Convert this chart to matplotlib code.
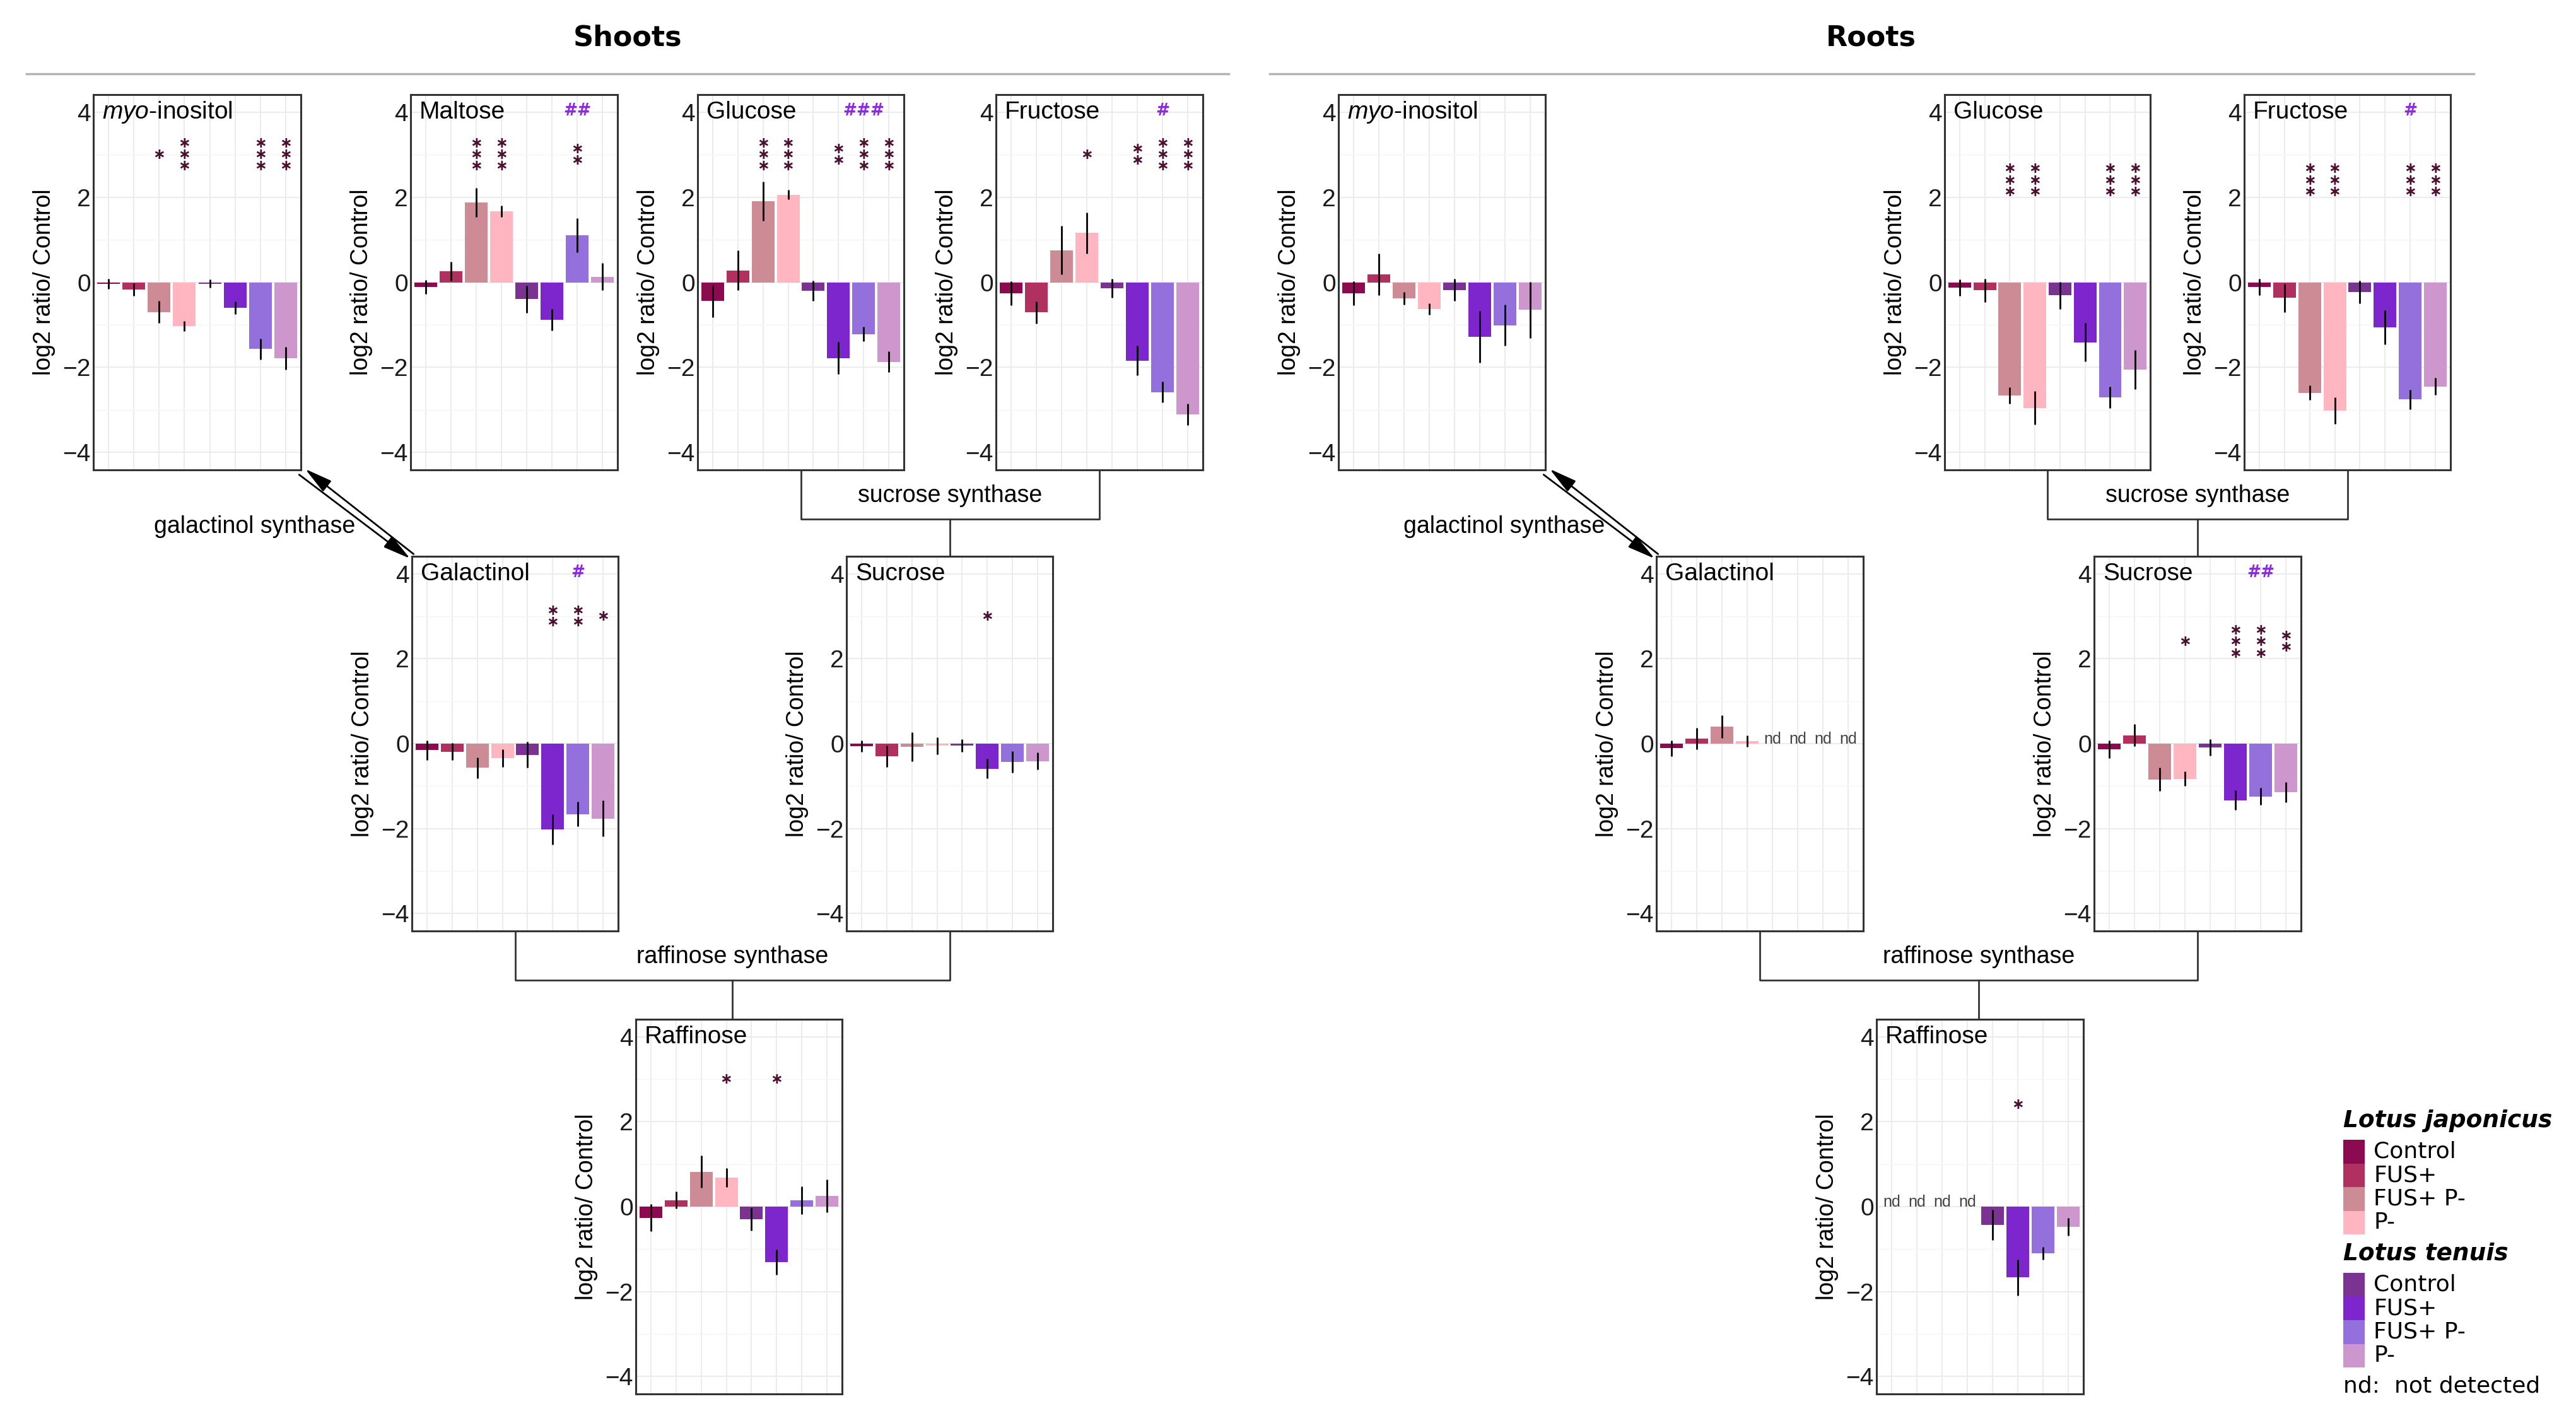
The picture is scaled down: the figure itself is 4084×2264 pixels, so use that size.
import numpy as np
import matplotlib
matplotlib.use("Agg")
import matplotlib.pyplot as plt
from matplotlib.patches import Rectangle

W, H = 4084, 2264

plt.rcParams['font.family'] = ['Liberation Sans', 'DejaVu Sans']
plt.rcParams['mathtext.fontset'] = 'custom'
plt.rcParams['mathtext.it'] = 'Liberation Sans:italic'
plt.rcParams['mathtext.rm'] = 'Liberation Sans'

# treatments, in bar order: 4 for L. japonicus then 4 for L. tenuis
treatments = ["Control", "FUS+", "FUS+ P-", "P-"]
species = ["Lotus japonicus", "Lotus tenuis"]
bar_colors = ['#8B0A50', '#B03060', '#CD8C95', '#FFB6C1',
              '#7A3391', '#7D26CD', '#9370DB', '#CD96CD']
nan = np.nan

# ---- Shoots ----
s_myo_mean = [-0.04, -0.17, -0.70, -1.03, -0.03, -0.60, -1.57, -1.79]
s_myo_err = [0.12, 0.15, 0.26, 0.12, 0.10, 0.15, 0.24, 0.27]
s_myo_stars = [0, 0, 1, 3, 0, 0, 3, 3]
s_myo_hash = [0, 0, 0, 0, 0, 0, 0, 0]

s_malt_mean = [-0.11, 0.26, 1.88, 1.67, -0.40, -0.88, 1.10, 0.13]
s_malt_err = [0.16, 0.22, 0.34, 0.13, 0.32, 0.25, 0.40, 0.32]
s_malt_stars = [0, 0, 3, 3, 0, 0, 2, 0]
s_malt_hash = [0, 0, 0, 0, 0, 0, 2, 0]

s_gluc_mean = [-0.44, 0.28, 1.91, 2.06, -0.20, -1.78, -1.22, -1.87]
s_gluc_err = [0.38, 0.47, 0.46, 0.11, 0.24, 0.38, 0.17, 0.24]
s_gluc_stars = [0, 0, 3, 3, 0, 2, 3, 3]
s_gluc_hash = [0, 0, 0, 0, 0, 0, 3, 0]

s_fruc_mean = [-0.26, -0.71, 0.75, 1.16, -0.14, -1.84, -2.58, -3.11]
s_fruc_err = [0.28, 0.26, 0.57, 0.48, 0.22, 0.35, 0.25, 0.25]
s_fruc_stars = [0, 0, 0, 1, 0, 2, 3, 3]
s_fruc_hash = [0, 0, 0, 0, 0, 0, 1, 0]

s_gala_mean = [-0.15, -0.19, -0.57, -0.34, -0.26, -2.02, -1.66, -1.76]
s_gala_err = [0.23, 0.20, 0.24, 0.21, 0.30, 0.35, 0.29, 0.43]
s_gala_stars = [0, 0, 0, 0, 0, 2, 2, 1]
s_gala_hash = [0, 0, 0, 0, 0, 0, 1, 0]

s_sucr_mean = [-0.06, -0.30, -0.08, -0.05, -0.05, -0.59, -0.43, -0.41]
s_sucr_err = [0.14, 0.25, 0.34, 0.20, 0.15, 0.23, 0.25, 0.20]
s_sucr_stars = [0, 0, 0, 0, 0, 1, 0, 0]
s_sucr_hash = [0, 0, 0, 0, 0, 0, 0, 0]

s_raff_mean = [-0.26, 0.15, 0.82, 0.68, -0.30, -1.31, 0.15, 0.25]
s_raff_err = [0.32, 0.20, 0.38, 0.22, 0.27, 0.30, 0.33, 0.39]
s_raff_stars = [0, 0, 0, 1, 0, 1, 0, 0]
s_raff_hash = [0, 0, 0, 0, 0, 0, 0, 0]

# ---- Roots ----
r_myo_mean = [-0.26, 0.19, -0.38, -0.63, -0.18, -1.28, -1.01, -0.65]
r_myo_err = [0.28, 0.49, 0.15, 0.14, 0.26, 0.61, 0.48, 0.66]
r_myo_stars = [0, 0, 0, 0, 0, 0, 0, 0]
r_myo_hash = [0, 0, 0, 0, 0, 0, 0, 0]

r_gluc_mean = [-0.13, -0.19, -2.66, -2.95, -0.31, -1.41, -2.71, -2.05]
r_gluc_err = [0.19, 0.27, 0.19, 0.39, 0.32, 0.45, 0.25, 0.46]
r_gluc_stars = [0, 0, 3, 3, 0, 0, 3, 3]
r_gluc_hash = [0, 0, 0, 0, 0, 0, 0, 0]

r_fruc_mean = [-0.11, -0.37, -2.60, -3.02, -0.23, -1.06, -2.75, -2.45]
r_fruc_err = [0.19, 0.34, 0.17, 0.31, 0.27, 0.40, 0.23, 0.20]
r_fruc_stars = [0, 0, 3, 3, 0, 0, 3, 3]
r_fruc_hash = [0, 0, 0, 0, 0, 0, 1, 0]

r_gala_mean = [-0.11, 0.12, 0.40, 0.06, nan, nan, nan, nan]
r_gala_err = [0.19, 0.25, 0.27, 0.13, nan, nan, nan, nan]
r_gala_stars = [0, 0, 0, 0, 0, 0, 0, 0]
r_gala_hash = [0, 0, 0, 0, 0, 0, 0, 0]

r_sucr_mean = [-0.13, 0.20, -0.84, -0.83, -0.09, -1.33, -1.24, -1.14]
r_sucr_err = [0.21, 0.26, 0.28, 0.17, 0.19, 0.23, 0.20, 0.24]
r_sucr_stars = [0, 0, 0, 1, 0, 3, 3, 2]
r_sucr_hash = [0, 0, 0, 0, 0, 0, 2, 0]

r_raff_mean = [nan, nan, nan, nan, -0.43, -1.67, -1.10, -0.48]
r_raff_err = [nan, nan, nan, nan, 0.36, 0.43, 0.15, 0.21]
r_raff_stars = [0, 0, 0, 0, 0, 1, 0, 0]
r_raff_hash = [0, 0, 0, 0, 0, 0, 0, 0]

MYO = r"$\it{myo}$-inositol"

fig = plt.figure(figsize=(W / 100, H / 100), dpi=100)
over = fig.add_axes([0, 0, 1, 1])
over.set_xlim(0, W)
over.set_ylim(H, 0)
over.axis('off')

LINE = '#333333'


def draw_panel(box, title, mean, err, stars, hashes, star_y):
    x0, y0, x1, y1 = box
    ax = fig.add_axes([x0 / W, 1 - y1 / H, (x1 - x0) / W, (y1 - y0) / H])
    x = np.arange(1, 9)
    m = np.array(mean, float)
    e = np.array(err, float)
    ok = ~np.isnan(m)
    cols = np.array(bar_colors)[ok]
    ax.bar(x[ok], m[ok], width=0.9, color=cols, zorder=2)
    ax.errorbar(x[ok], m[ok], yerr=e[ok], fmt='none', ecolor='black',
                elinewidth=2.0, capsize=0, zorder=3)
    for xi in x[~ok]:
        ax.text(xi, 0.1, 'nd', ha='center', va='center', fontsize=18,
                color='#444444')
    for xi, n in zip(x, stars):
        for k in range(n):
            ax.text(xi, star_y - (k - (n - 1) / 2) * 0.27, '\u2217',
                    ha='center', va='center', fontsize=17, weight='bold',
                    family='DejaVu Sans', color='#4b1030', zorder=4)
    for xi, n in zip(x, hashes):
        if n:
            ax.text(xi, 4.03, '#' * n, ha='center', va='center', fontsize=19,
                    family='DejaVu Sans', weight='bold', color='#8A2BE2')
    ax.text(0.75, 4.0, title, ha='left', va='center', fontsize=28)
    ax.set_xlim(0.4, 8.6)
    ax.set_ylim(-4.41, 4.41)
    ax.set_xticks(x)
    ax.set_yticks([-4, -2, 0, 2, 4])
    ax.set_yticks([-3, -1, 1, 3], minor=True)
    ax.set_yticklabels(['\u22124', '\u22122', '0', '2', '4'])
    ax.tick_params(axis='x', length=0, labelbottom=False)
    ax.tick_params(axis='y', which='both', length=0, pad=3, labelsize=28,
                   labelcolor='#1a1a1a')
    ax.set_axisbelow(True)
    ax.grid(which='major', color='#ececec', lw=1.5)
    ax.grid(which='minor', axis='y', color='#f5f5f5', lw=1.0)
    for sp in ax.spines.values():
        sp.set_color(LINE)
        sp.set_linewidth(2.2)
    ax.set_ylabel('log2 ratio/ Control', fontsize=27, labelpad=8)
    return ax


def centre(box):
    return (box[0] + box[2]) / 2


def bracket(box_l, box_r, box_child, label):
    xl, xr = centre(box_l), centre(box_r)
    ytop = box_l[3]
    ybot = ytop + 78
    over.plot([xl, xl, xr, xr], [ytop, ybot, ybot, ytop], color=LINE, lw=2)
    xm = (xl + xr) / 2
    over.plot([xm, xm], [ybot, box_child[1]], color=LINE, lw=2)
    over.text(xm, (ytop + ybot) / 2 + 2, label, ha='center', va='center',
              fontsize=27)


def gs_arrow(box_from, box_to, tx, ty):
    sx, sy = box_from[2], box_from[3]
    ex, ey = box_to[0], box_to[1]
    d = np.array([ex - sx, ey - sy], float)
    n = np.array([-d[1], d[0]]) / np.hypot(*d)
    o = 4.5
    style = dict(arrowstyle='-|>,head_length=0.9,head_width=0.22', lw=2,
                 color='black', shrinkA=0, shrinkB=0, mutation_scale=30)
    over.annotate('', xy=(sx - n[0] * o + 4, sy - n[1] * o + 2),
                  xytext=(ex - n[0] * o, ey - n[1] * o), arrowprops=style)
    over.annotate('', xy=(ex + n[0] * o, ey + n[1] * o),
                  xytext=(sx + n[0] * o, sy + n[1] * o + 4), arrowprops=style)
    over.text(tx, ty, 'galactinol synthase', ha='center', va='center',
              fontsize=27)


# panel boxes (pixel coordinates: left, top, right, bottom)
b_s_myo = (148, 150, 477, 745)
b_s_malt = (651, 150, 979, 745)
b_s_gluc = (1106, 150, 1433, 745)
b_s_fruc = (1579, 150, 1907, 745)
b_s_gala = (653, 882, 980, 1476)
b_s_sucr = (1342, 882, 1669, 1476)
b_s_raff = (1008, 1616, 1335, 2210)

b_r_myo = (2122, 150, 2450, 745)
b_r_gluc = (3083, 150, 3409, 745)
b_r_fruc = (3558, 150, 3885, 745)
b_r_gala = (2626, 882, 2954, 1476)
b_r_sucr = (3320, 882, 3648, 1476)
b_r_raff = (2975, 1616, 3303, 2210)

draw_panel(b_s_myo, MYO, s_myo_mean, s_myo_err, s_myo_stars, s_myo_hash, 3.0)
draw_panel(b_s_malt, 'Maltose', s_malt_mean, s_malt_err, s_malt_stars, s_malt_hash, 3.0)
draw_panel(b_s_gluc, 'Glucose', s_gluc_mean, s_gluc_err, s_gluc_stars, s_gluc_hash, 3.0)
draw_panel(b_s_fruc, 'Fructose', s_fruc_mean, s_fruc_err, s_fruc_stars, s_fruc_hash, 3.0)
draw_panel(b_s_gala, 'Galactinol', s_gala_mean, s_gala_err, s_gala_stars, s_gala_hash, 3.0)
draw_panel(b_s_sucr, 'Sucrose', s_sucr_mean, s_sucr_err, s_sucr_stars, s_sucr_hash, 3.0)
draw_panel(b_s_raff, 'Raffinose', s_raff_mean, s_raff_err, s_raff_stars, s_raff_hash, 3.0)

draw_panel(b_r_myo, MYO, r_myo_mean, r_myo_err, r_myo_stars, r_myo_hash, 2.4)
draw_panel(b_r_gluc, 'Glucose', r_gluc_mean, r_gluc_err, r_gluc_stars, r_gluc_hash, 2.4)
draw_panel(b_r_fruc, 'Fructose', r_fruc_mean, r_fruc_err, r_fruc_stars, r_fruc_hash, 2.4)
draw_panel(b_r_gala, 'Galactinol', r_gala_mean, r_gala_err, r_gala_stars, r_gala_hash, 2.4)
draw_panel(b_r_sucr, 'Sucrose', r_sucr_mean, r_sucr_err, r_sucr_stars, r_sucr_hash, 2.4)
draw_panel(b_r_raff, 'Raffinose', r_raff_mean, r_raff_err, r_raff_stars, r_raff_hash, 2.4)

# pathway connectors
bracket(b_s_gluc, b_s_fruc, b_s_sucr, 'sucrose synthase')
bracket(b_s_gala, b_s_sucr, b_s_raff, 'raffinose synthase')
bracket(b_r_gluc, b_r_fruc, b_r_sucr, 'sucrose synthase')
bracket(b_r_gala, b_r_sucr, b_r_raff, 'raffinose synthase')
gs_arrow(b_s_myo, b_s_gala, 404, 835)
gs_arrow(b_r_myo, b_r_gala, 2385, 835)

# section headers
for label, cx, x0, x1 in [('Shoots', 995, 42, 1948), ('Roots', 2966, 2013, 3922)]:
    over.text(cx, 60, label, ha='center', va='center', fontsize=32,
              family='DejaVu Sans', weight='bold')
    over.plot([x0, x1], [117, 117], color='#b4b4b4', lw=2.5)

# legend
lx, sw, sh = 3715, 34, 37.5
ys = [1777, 1988]
for si, sp in enumerate(species):
    over.text(lx, ys[si], sp, ha='left', va='center', fontsize=27,
              family='DejaVu Sans', weight='bold', style='italic')
    for ti, tr in enumerate(treatments):
        top = ys[si] + 30 + ti * sh
        over.add_patch(Rectangle((lx, top), sw, sh, color=bar_colors[si * 4 + ti],
                                 lw=0))
        over.text(lx + 48, top + sh / 2, tr, ha='left', va='center',
                  fontsize=26, family='DejaVu Sans')
over.text(lx, 2197, 'nd:  not detected', ha='left', va='center', fontsize=26,
          family='DejaVu Sans')

fig.savefig('out.png', dpi=100)
